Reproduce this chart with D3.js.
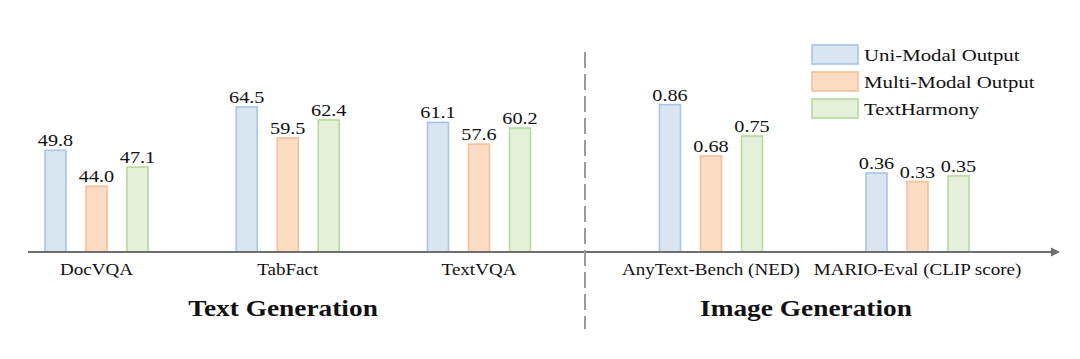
<!DOCTYPE html>
<html>
<head>
<meta charset="utf-8">
<script src="https://cdn.jsdelivr.net/npm/d3@7"></script>
<style>
  html, body { margin: 0; padding: 0; background: #fff; }
  svg { display: block; }
  text { font-family: "Liberation Serif", "Times New Roman", serif; fill: #111; }
</style>
</head>
<body>
<svg id="chart" width="1080" height="359"></svg>
<script>
// ---- data ----
const series = ["Uni-Modal Output", "Multi-Modal Output", "TextHarmony"];
const textCategories = ["DocVQA", "TabFact", "TextVQA"];
const textUni = [49.8, 64.5, 61.1];
const textMulti = [44.0, 59.5, 57.6];
const textHarmony = [47.1, 62.4, 60.2];
const textLabels = [["49.8", "44.0", "47.1"], ["64.5", "59.5", "62.4"], ["61.1", "57.6", "60.2"]];
// value at which each category's bars start (the chart has no common zero)
const textBaselines = [33.4, 41.1, 40.2];

const imageCategories = ["AnyText-Bench (NED)", "MARIO-Eval (CLIP score)"];
const imageUni = [0.86, 0.36];
const imageMulti = [0.68, 0.33];
const imageHarmony = [0.75, 0.35];
const imageLabels = [["0.86", "0.68", "0.75"], ["0.36", "0.33", "0.35"]];
const imageBaselines = [0.343, 0.083];

const groupTitles = ["Text Generation", "Image Generation"];

// ---- styles ----
const fills = ["#dae5f2", "#fcdcc2", "#e4f0d9"];
const strokes = ["#a9c5e4", "#f7c09a", "#b6d99e"];
const SX = 1.19; // horizontal text stretch of the original picture

const svg = d3.select("#chart");
const axisY = 252;

const xText = d3.scalePoint().domain(textCategories).range([96.5, 479]);
const xImage = d3.scalePoint().domain(imageCategories).range([711, 917.5]);
const xSeries = d3.scaleBand().domain(series).range([-51.5, 51.5]).paddingInner(0.488).paddingOuter(0);

function buildRows(cats, a, b, c, labels, bases, span, px, xs) {
  return cats.map((cat, i) => {
    const y = d3.scaleLinear().domain([bases[i], bases[i] + span]).range([axisY, axisY - px]);
    return { cat, x: xs(cat), y, vals: [a[i], b[i], c[i]], labels: labels[i] };
  });
}
const rows = buildRows(textCategories, textUni, textMulti, textHarmony, textLabels, textBaselines, 20, 124, xText)
  .concat(buildRows(imageCategories, imageUni, imageMulti, imageHarmony, imageLabels, imageBaselines, 0.5, 142.5, xImage));

// bars
rows.forEach(r => {
  const g = svg.append("g").attr("transform", `translate(${r.x},0)`);
  r.vals.forEach((v, j) => {
    const s = series[j];
    const top = r.y(v);
    g.append("rect")
      .attr("x", xSeries(s)).attr("y", top)
      .attr("width", xSeries.bandwidth()).attr("height", axisY - top)
      .attr("fill", fills[j]).attr("stroke", strokes[j]).attr("stroke-width", 1.6);
    g.append("text")
      .attr("transform", `translate(${xSeries(s) + xSeries.bandwidth() / 2},${top - 4}) scale(${SX},1)`)
      .attr("text-anchor", "middle").attr("font-size", 17)
      .text(r.labels[j]);
  });
  svg.append("text")
    .attr("transform", `translate(${r.x},275) scale(${SX},1)`)
    .attr("text-anchor", "middle").attr("font-size", 16)
    .text(r.cat);
});

// axis with arrow
svg.append("line").attr("x1", 28).attr("x2", 1052).attr("y1", axisY).attr("y2", axisY)
  .attr("stroke", "#6e6e6e").attr("stroke-width", 2);
svg.append("path").attr("d", `M1051,${axisY - 4.5} L1060,${axisY} L1051,${axisY + 4.5} Z`).attr("fill", "#6e6e6e");

// dashed separator
svg.append("line").attr("x1", 585).attr("x2", 585).attr("y1", 52).attr("y2", 329)
  .attr("stroke", "#9a9a9a").attr("stroke-width", 2).attr("stroke-dasharray", "16,6");

// group titles
const titleX = [283, 806];
groupTitles.forEach((t, i) => {
  svg.append("text")
    .attr("transform", `translate(${titleX[i]},316) scale(${SX},1)`)
    .attr("text-anchor", "middle").attr("font-size", 23).attr("font-weight", "bold")
    .text(t);
});

// legend
const legend = svg.append("g").attr("transform", "translate(812,45)");
series.forEach((s, j) => {
  const gy = j * 27;
  legend.append("rect").attr("x", 0).attr("y", gy).attr("width", 46).attr("height", 19)
    .attr("fill", fills[j]).attr("stroke", strokes[j]).attr("stroke-width", 1.6);
  legend.append("text")
    .attr("transform", `translate(52,${gy + 16}) scale(${SX},1)`)
    .attr("font-size", 17.5)
    .text(s);
});
</script>
</body>
</html>
